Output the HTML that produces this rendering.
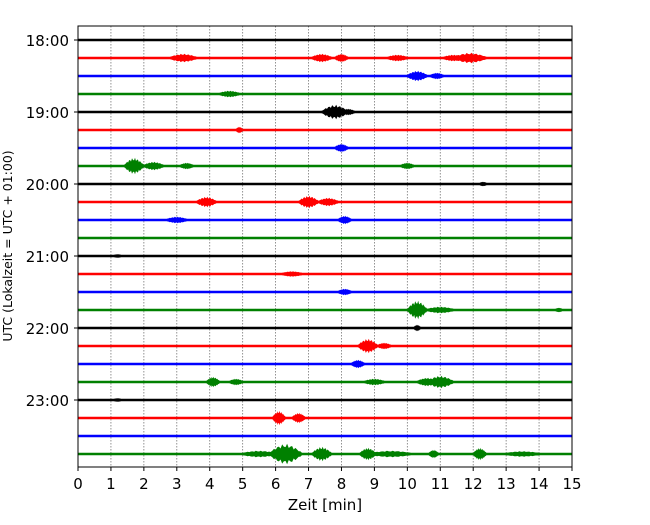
<!DOCTYPE html>
<html><head><meta charset="utf-8"><style>
body{margin:0;background:#fff}
svg{font-family:"DejaVu Sans","Liberation Sans",sans-serif}
</style></head><body>
<svg id="c" width="650" height="520" xmlns="http://www.w3.org/2000/svg">
<rect width="650" height="520" fill="#fff"/>
<g id="grid"></g><g id="traces"></g><g id="axes"></g>
</svg>
<script>
const hourLabels=["18:00","19:00","20:00","21:00","22:00","23:00"];
const xTicks=[0,1,2,3,4,5,6,7,8,9,10,11,12,13,14,15];
const traceColors=["#000","#f00","#00f","#008000"];
// events per trace: [minute, halfWidthMin, amplitude]
const traceEvents=[
[],
[[3.2,0.4,3],[7.4,0.3,3],[8.0,0.2,3],[9.7,0.3,2],[11.4,0.3,2],[11.9,0.5,4]],
[[10.3,0.3,4],[10.9,0.2,2]],
[[4.6,0.3,2]],
[[7.8,0.4,6],[8.2,0.2,2]],
[[4.9,0.1,2]],
[[8.0,0.2,3]],
[[1.7,0.3,7],[2.3,0.3,3],[3.3,0.2,2],[10.0,0.2,2]],
[[12.3,0.1,1]],
[[3.9,0.3,4],[7.0,0.3,5],[7.6,0.3,3]],
[[3.0,0.3,2],[8.1,0.2,3]],
[],
[[1.2,0.1,0.5]],
[[6.5,0.3,1.5]],
[[8.1,0.2,2]],
[[10.3,0.3,8],[11.0,0.4,2],[14.6,0.1,1]],
[[10.3,0.1,2]],
[[8.8,0.3,6],[9.3,0.2,2]],
[[8.5,0.2,3]],
[[4.1,0.2,4],[4.8,0.2,2],[9.0,0.3,2],[10.6,0.3,3],[11.0,0.4,5]],
[[1.2,0.1,0.5]],
[[6.1,0.2,6],[6.7,0.2,4]],
[],
[[5.5,0.5,2],[6.3,0.5,9],[7.4,0.3,6],[8.8,0.25,5],[9.5,0.6,2],[10.8,0.15,3],[12.2,0.2,5],[13.5,0.5,1.5]]
];
const L=78,R=572,T=26,B=467,Y0=40,DY=18;
const xs=m=>L+(R-L)*m/15, ys=i=>Y0+i*DY;
const NS="http://www.w3.org/2000/svg";
function mk(t,a,p){const e=document.createElementNS(NS,t);for(const k in a)e.setAttribute(k,a[k]);p.appendChild(e);return e;}
const grid=document.getElementById('grid'),tr=document.getElementById('traces'),ax=document.getElementById('axes');
xTicks.forEach(v=>{
 if(v>0&&v<15){const g=mk('line',{x1:xs(v),x2:xs(v),y1:T,y2:B,stroke:'#777','stroke-width':0.8,'stroke-dasharray':'1.5,1.5'},grid);
 
 }
 const tk=mk('line',{x1:xs(v),x2:xs(v),y1:B,y2:B+4,stroke:'#000'},ax);
 
 
 const t=mk('text',{x:xs(v),y:B+22,'text-anchor':'middle','font-size':15},ax);t.textContent=v;
 
 
});
traceEvents.forEach((ev,i)=>{
 const y=ys(i),c=traceColors[i%4];
 const g=mk('g',{},tr);
 
 
 mk('line',{x1:L,x2:R,y1:y,y2:y,stroke:c,'stroke-width':2.6},g);
 ev.forEach(e=>{
  const [m,w,a]=e;let top=[],bot=[];
  for(let k=0;k<=20;k++){const mm=m-w+2*w*k/20;const s=Math.sin(Math.PI*k/20);const amp=1.3+a*s*(0.75+0.25*Math.cos(k*2.3));
   top.push(xs(mm).toFixed(1)+','+(y-amp).toFixed(1));bot.unshift(xs(mm).toFixed(1)+','+(y+amp).toFixed(1));}
  const p=mk('polygon',{points:top.concat(bot).join(' '),fill:c},g);
  
  
 });
});
hourLabels.forEach((h,j)=>{
 const y=ys(j*4);
 mk('line',{x1:L-4,x2:L,y1:y,y2:y,stroke:'#000'},ax);
 const t=mk('text',{x:L-9,y:y+6,'text-anchor':'end','font-size':15},ax);t.textContent=h;
 
 
});
const fr=mk('rect',{x:L,y:T,width:R-L,height:B-T,fill:'none',stroke:'#000','stroke-width':1},ax);


const xl=mk('text',{x:(L+R)/2,y:510,'text-anchor':'middle','font-size':15,'xml:space':'preserve'},ax);xl.textContent='Zeit  [min]';


const yl=mk('text',{x:0,y:0,'text-anchor':'middle','font-size':12.5,transform:'translate(12,246) rotate(-90)'},ax);yl.textContent='UTC (Lokalzeit = UTC + 01:00)';


</script>
</body></html>
